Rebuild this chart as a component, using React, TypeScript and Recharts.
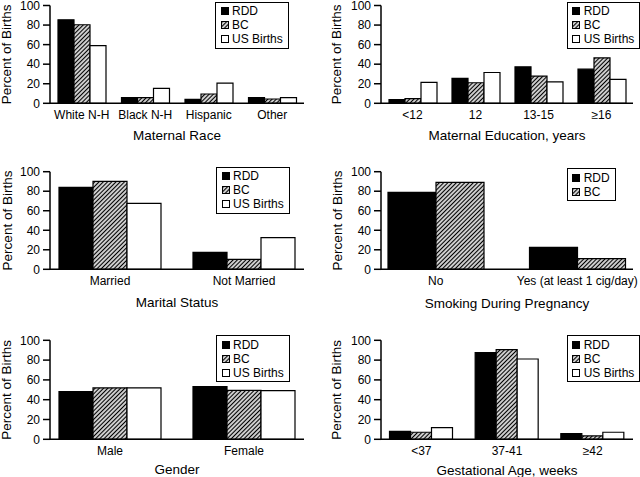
import { BarChart, Bar, XAxis, YAxis, Legend } from "recharts"

// values (percent of births)
const raceCats = ["White N-H", "Black N-H", "Hispanic", "Other"]
const raceRdd = [85.4, 5.8, 4, 5.8]
const raceBc = [80.3, 5.8, 9.5, 4.4]
const raceUs = [59, 15.3, 20.7, 5.8]

const eduCats = ["<12", "12", "13-15", "≥16"]
const eduRdd = [3.7, 25.4, 37.3, 34.9]
const eduBc = [4.7, 21, 27.8, 46.4]
const eduUs = [21.4, 31.5, 22, 24.4]

const maritalCats = ["Married", "Not Married"]
const maritalRdd = [84, 17.4]
const maritalBc = [90, 10.2]
const maritalUs = [67.6, 32.4]

const smokeCats = ["No", "Yes (at least 1 cig/day)"]
const smokeRdd = [78.8, 22.5]
const smokeBc = [89, 10.9]

const genderCats = ["Male", "Female"]
const genderRdd = [48.1, 53.2]
const genderBc = [51.9, 49.5]
const genderUs = [51.9, 49.2]

const gestCats = ["<37", "37-41", "≥42"]
const gestRdd = [8.1, 87.5, 5.7]
const gestBc = [7.1, 90.6, 3.4]
const gestUs = [11.8, 81.1, 7.1]

const yTicks = [0, 20, 40, 60, 80, 100]

const FONT = "'Liberation Sans', Arial, Helvetica, sans-serif"

type Kind = "rdd" | "bc" | "us"
type Series = { key: string; name: string; kind: Kind; values: number[] }

const rows = (cats: string[], series: Series[]) =>
  cats.map((c, i) => {
    const r: Record<string, string | number> = { cat: c }
    series.forEach((s) => (r[s.key] = s.values[i]))
    return r
  })

const Hatch = ({ id }: { id: string }) => (
  <pattern id={id} width={3} height={3} patternUnits="userSpaceOnUse" patternTransform="rotate(45)">
    <rect width={3} height={3} fill="#fff" />
    <line x1={1.5} y1={0} x2={1.5} y2={3} stroke="#000" strokeWidth={1.4} />
  </pattern>
)

const Swatch = ({ kind, id }: { kind: Kind; id: string }) => (
  <svg width={8} height={8} style={{ display: "block" }}>
    {kind === "bc" && (
      <defs>
        <Hatch id={id} />
      </defs>
    )}
    <rect
      x={0.5}
      y={0.5}
      width={7}
      height={7}
      fill={kind === "rdd" ? "#000" : kind === "bc" ? `url(#${id})` : "#fff"}
      stroke="#000"
      strokeWidth={1}
    />
  </svg>
)

const LegendBox = ({ series, id }: { series: Series[]; id: string }) => (
  <div
    style={{
      border: "1.3px solid #000",
      background: "#fff",
      padding: "1.5px 5px 1.5px 4.5px",
      fontSize: 12,
      lineHeight: "14px",
      color: "#000",
      whiteSpace: "nowrap",
      fontFamily: FONT,
    }}
  >
    {series.map((s) => (
      <div key={s.key} style={{ display: "flex", alignItems: "center" }}>
        <Swatch kind={s.kind} id={`lg-${id}-${s.key}`} />
        <span style={{ marginLeft: 3.5 }}>{s.name}</span>
      </div>
    ))}
  </div>
)

type PanelProps = {
  id: string
  left: number
  top: number
  height: number
  plotTop: number
  plotBottom: number
  axisX: number
  plotRight: number
  pad: { left: number; right: number }
  barSize: number
  cats: string[]
  series: Series[]
  title: string
  titleDy: number
  legendLeft: number
  legendTop: number
  yLabelX: number
}

function Panel(p: PanelProps) {
  const hatchId = `hatch-${p.id}`
  const data = rows(p.cats, p.series)
  return (
    <div style={{ position: "absolute", left: p.left, top: p.top }}>
      <BarChart
        width={320}
        height={p.height}
        data={data}
        barGap={0}
        barSize={p.barSize}
        margin={{ top: p.plotTop, right: 320 - p.plotRight, left: 0, bottom: p.height - p.plotBottom - 30 }}
      >
        <defs>
          <Hatch id={hatchId} />
        </defs>
        <XAxis
          dataKey="cat"
          type="category"
          height={30}
          interval={0}
          tickLine={false}
          tickSize={5}
          tickMargin={2}
          padding={p.pad}
          axisLine={{ stroke: "#000", strokeWidth: 1.5 }}
          tick={{ fontSize: 12, fill: "#000" }}
          label={(props: any) => {
            const vb = props.viewBox
            return (
              <text
                x={vb.x + vb.width / 2}
                y={vb.y + p.titleDy}
                textAnchor="middle"
                dominantBaseline="central"
                fontSize={13.5}
                fill="#000"
              >
                {p.title}
              </text>
            )
          }}
        />
        <YAxis
          width={p.axisX}
          type="number"
          domain={[0, 100]}
          ticks={yTicks}
          interval={0}
          tickSize={7}
          tickMargin={3}
          axisLine={{ stroke: "#000", strokeWidth: 1.5 }}
          tickLine={{ stroke: "#000", strokeWidth: 1.5 }}
          tick={{ fontSize: 12, fill: "#000" }}
          label={(props: any) => {
            const vb = props.viewBox
            const cy = vb.y + vb.height / 2
            return (
              <text
                x={p.yLabelX}
                y={cy}
                transform={`rotate(-90 ${p.yLabelX} ${cy})`}
                textAnchor="middle"
                dominantBaseline="central"
                fontSize={13.5}
                fill="#000"
              >
                Percent of Births
              </text>
            )
          }}
        />
        <Legend
          layout="vertical"
          align="center"
          verticalAlign="middle"
          wrapperStyle={{ left: p.legendLeft, top: p.legendTop, width: "auto", height: "auto" }}
          content={() => <LegendBox series={p.series} id={p.id} />}
        />
        {p.series.map((s) => (
          <Bar
            key={s.key}
            dataKey={s.key}
            name={s.name}
            fill={s.kind === "rdd" ? "#000" : s.kind === "bc" ? `url(#${hatchId})` : "#fff"}
            stroke="#000"
            strokeWidth={1.2}
            isAnimationActive={false}
          />
        ))}
      </BarChart>
    </div>
  )
}

const three = (rdd: number[], bc: number[], us: number[]): Series[] => [
  { key: "rdd", name: "RDD", kind: "rdd", values: rdd },
  { key: "bc", name: "BC", kind: "bc", values: bc },
  { key: "us", name: "US Births", kind: "us", values: us },
]

export default function App() {
  return (
    <div
      style={{
        position: "absolute",
        left: 0,
        top: 0,
        width: 640,
        height: 477,
        background: "#fff",
        fontFamily: FONT,
        overflow: "hidden",
      }}
    >
      <Panel
        id="race" left={0} top={0} height={160} plotTop={5.5} plotBottom={103.3}
        axisX={50} plotRight={304} pad={{ left: 0, right: 0 }} barSize={16}
        cats={raceCats} series={three(raceRdd, raceBc, raceUs)}
        title="Maternal Race" titleDy={32} legendLeft={215} legendTop={1.7} yLabelX={7}
      />
      <Panel
        id="edu" left={320} top={0} height={160} plotTop={5.5} plotBottom={103.3}
        axisX={61} plotRight={313} pad={{ left: 0, right: 0 }} barSize={16}
        cats={eduCats} series={three(eduRdd, eduBc, eduUs)}
        title="Maternal Education, years" titleDy={32} legendLeft={246.7} legendTop={1.7} yLabelX={17}
      />
      <Panel
        id="marital" left={0} top={160} height={160} plotTop={11.7} plotBottom={109.3}
        axisX={50} plotRight={304} pad={{ left: -7, right: -7 }} barSize={34}
        cats={maritalCats} series={three(maritalRdd, maritalBc, maritalUs)}
        title="Marital Status" titleDy={33.5} legendLeft={216} legendTop={6.7} yLabelX={7}
      />
      <Panel
        id="smoke" left={320} top={160} height={160} plotTop={11.7} plotBottom={109.3}
        axisX={61} plotRight={313} pad={{ left: -16, right: -15 }} barSize={48}
        cats={smokeCats}
        series={[
          { key: "rdd", name: "RDD", kind: "rdd", values: smokeRdd },
          { key: "bc", name: "BC", kind: "bc", values: smokeBc },
        ]}
        title="Smoking During Pregnancy" titleDy={34.5} legendLeft={246.7} legendTop={8.3} yLabelX={17}
      />
      <Panel
        id="gender" left={0} top={320} height={157} plotTop={20.3} plotBottom={119.3}
        axisX={50} plotRight={304} pad={{ left: -7, right: -7 }} barSize={34}
        cats={genderCats} series={three(genderRdd, genderBc, genderUs)}
        title="Gender" titleDy={30} legendLeft={216} legendTop={15.3} yLabelX={7}
      />
      <Panel
        id="gest" left={320} top={320} height={157} plotTop={20.3} plotBottom={119.3}
        axisX={61} plotRight={313} pad={{ left: -2.5, right: -2.5 }} barSize={21}
        cats={gestCats} series={three(gestRdd, gestBc, gestUs)}
        title="Gestational Age, weeks" titleDy={31} legendLeft={246.7} legendTop={15.3} yLabelX={17}
      />
    </div>
  )
}
